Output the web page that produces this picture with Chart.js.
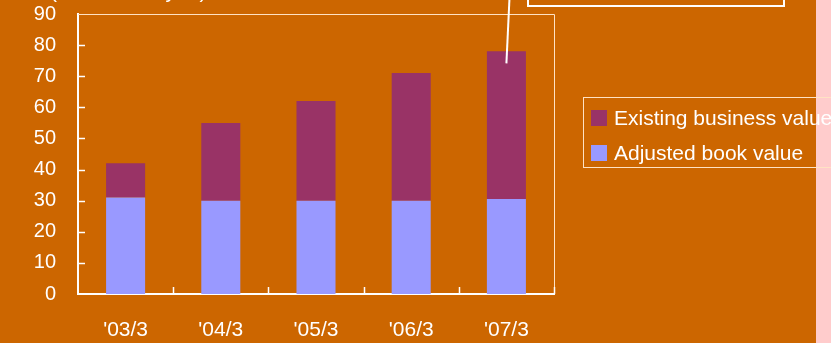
<!DOCTYPE html>
<html>
<head>
<meta charset="utf-8">
<script src="https://cdn.jsdelivr.net/npm/chart.js@4/dist/chart.umd.min.js"></script>
<style>
  html, body { margin: 0; padding: 0; background: #cc6600; }
  #wrap { width: 831px; height: 343px; position: relative; }
</style>
</head>
<body>
<div id="wrap"><canvas id="evChart"></canvas></div>
<script>
// data (billion yen)
const periods = ["'03/3", "'04/3", "'05/3", "'06/3", "'07/3"];
const adjustedBook = [31, 30, 30, 30, 30.5];
const existingBusiness = [11, 25, 32, 41, 47.5];
const yTicks = [0, 10, 20, 30, 40, 50, 60, 70, 80, 90];

const ORANGE = '#cc6600';
const PURPLE = '#993366';
const LILAC = '#9999ff';
const FONT = "'Liberation Sans', Arial, sans-serif";

// background, frame, inward ticks, legend box and the callout bits
const decor = {
    id: 'decor',
    beforeDraw(chart) {
        const c = chart.ctx;
        c.save();
        c.fillStyle = ORANGE;
        c.fillRect(0, 0, chart.width, chart.height);
        c.fillStyle = '#ffcccc';
        c.fillRect(816, 0, chart.width - 816, chart.height);
        // heading, cut off by the top edge
        c.fillStyle = '#ffffff';
        c.font = '21px ' + FONT;
        c.textBaseline = 'alphabetic';
        c.fillText('(Unit: billion yen)', 50, -2);
        c.restore();
    },
    afterDraw(chart) {
        const c = chart.ctx;
        const a = chart.chartArea;
        const x = chart.scales.x, y = chart.scales.y;
        c.save();

        // plot frame (top + right)
        c.strokeStyle = '#ffe2c4';
        c.lineWidth = 1;
        c.beginPath();
        c.moveTo(a.left, a.top + 0.5);
        c.lineTo(a.right + 0.5, a.top + 0.5);
        c.lineTo(a.right + 0.5, a.bottom);
        c.stroke();

        // inward tick marks
        c.strokeStyle = '#ffffff';
        c.lineWidth = 1.5;
        c.beginPath();
        yTicks.slice(1, -1).forEach(v => {
            const py = Math.round(y.getPixelForValue(v)) + 0.5;
            c.moveTo(a.left, py);
            c.lineTo(a.left + 7, py);
        });
        const step = x.getPixelForValue(1) - x.getPixelForValue(0);
        for (let i = 0; i < periods.length; i++) {
            const px = Math.round(x.getPixelForValue(i) + step / 2) + 0.5;
            c.moveTo(px, a.bottom);
            c.lineTo(px, a.bottom - 7);
        }
        c.stroke();

        // legend
        const items = chart.data.datasets.slice().reverse();
        c.strokeStyle = '#ffe2c4';
        c.lineWidth = 1;
        c.strokeRect(583.5, 97.5, 270, 70);
        c.font = '21px ' + FONT;
        c.textBaseline = 'middle';
        items.forEach((ds, i) => {
            const cy = 118 + i * 35;
            c.fillStyle = ds.backgroundColor;
            c.fillRect(591, cy - 8, 16, 16);
            c.fillStyle = '#ffffff';
            c.fillText(ds.label, 614, cy + 1);
        });

        // callout box and leader line to the last bar
        c.strokeStyle = '#ffffff';
        c.lineWidth = 2;
        c.strokeRect(528, -20, 256, 26);
        const last = periods.length - 1;
        const topVal = adjustedBook[last] + existingBusiness[last];
        c.beginPath();
        c.moveTo(x.getPixelForValue(last) + 3, 0);
        c.lineTo(x.getPixelForValue(last), y.getPixelForValue(topVal) + 12);
        c.stroke();

        c.restore();
    }
};

new Chart(document.getElementById('evChart'), {
    type: 'bar',
    data: {
        labels: periods,
        datasets: [
            { label: 'Adjusted book value', data: adjustedBook, backgroundColor: LILAC },
            { label: 'Existing business value', data: existingBusiness, backgroundColor: PURPLE }
        ]
    },
    plugins: [decor],
    options: {
        responsive: true,
        maintainAspectRatio: false,
        animation: false,
        events: [],
        categoryPercentage: 1,
        barPercentage: 0.41,
        layout: { padding: { left: 0, top: 14, right: 277, bottom: 0 } },
        plugins: { legend: { display: false }, tooltip: { enabled: false } },
        scales: {
            x: {
                stacked: true,
                grid: { display: false, drawTicks: false },
                border: { color: '#ffffff', width: 2 },
                ticks: { color: '#ffffff', font: { family: FONT, size: 21 }, padding: 24, maxRotation: 0 },
                afterFit(s) { s.height = 49; s.paddingLeft = 0; s.paddingRight = 0; }
            },
            y: {
                stacked: true,
                min: 0,
                max: 90,
                afterBuildTicks(s) { s.ticks = yTicks.map(v => ({ value: v })); },
                grid: { display: false, drawTicks: false },
                border: { color: '#ffffff', width: 2 },
                ticks: { color: '#ffffff', font: { family: FONT, size: 20 }, padding: 22 },
                afterFit(s) { s.width = 78; s.paddingTop = 0; s.paddingBottom = 0; }
            }
        }
    }
});
</script>
</body>
</html>
